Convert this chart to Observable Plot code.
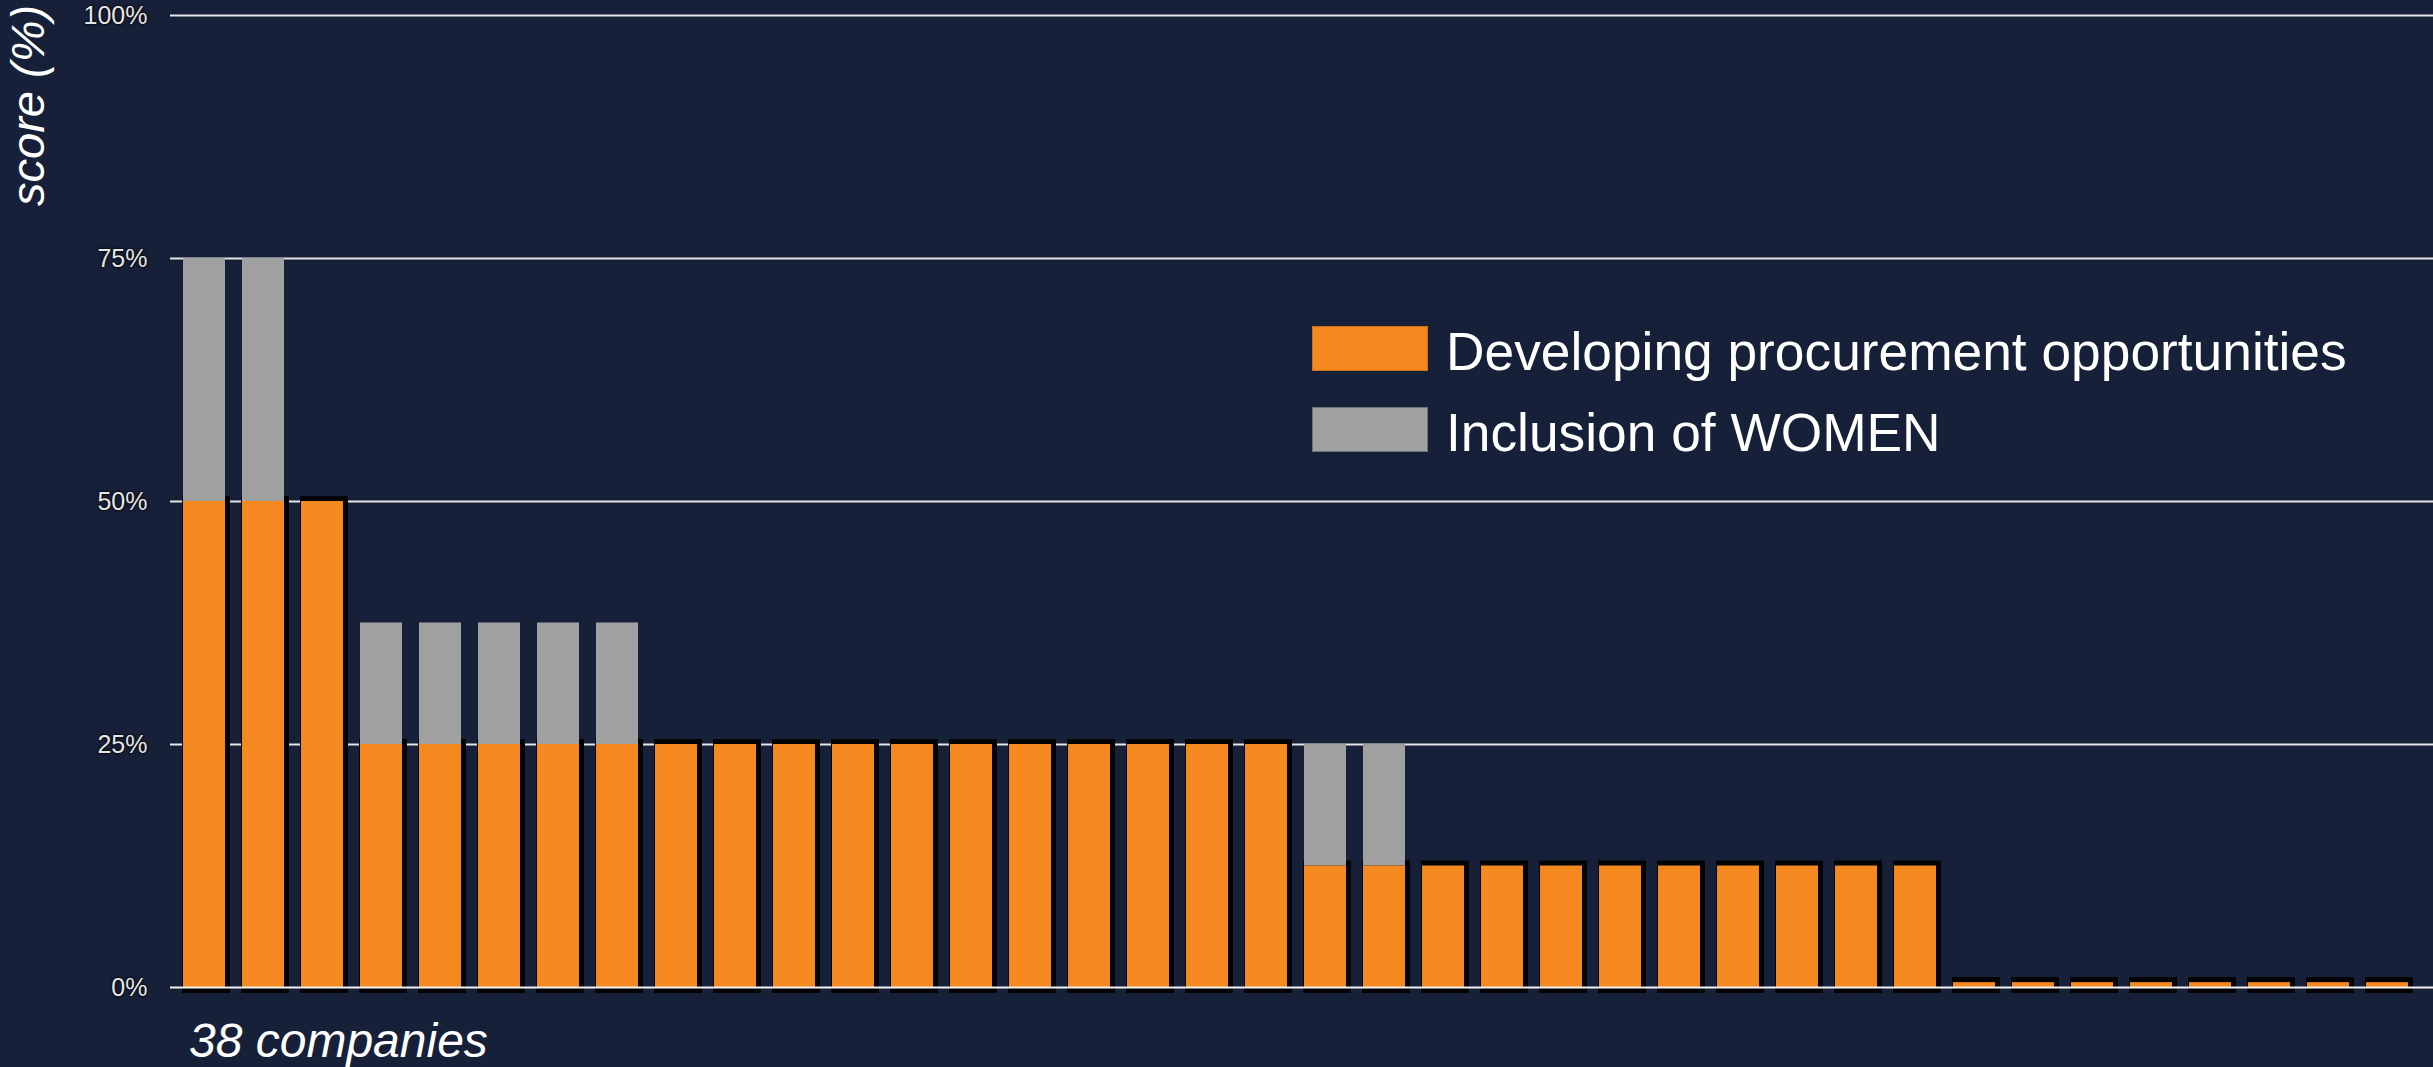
<!DOCTYPE html>
<html>
<head>
<meta charset="utf-8">
<script src="https://cdn.jsdelivr.net/npm/d3@7"></script>
<script src="https://cdn.jsdelivr.net/npm/@observablehq/plot@0.6"></script>
<style>
html, body { margin: 0; padding: 0; background: #172039; }
#wrap { position: relative; width: 2433px; height: 1067px; overflow: hidden; font-family: "Liberation Sans", Arial, sans-serif; color: #ffffff; }
#chart { position: absolute; left: 0; top: 0; }
#ylabel { position: absolute; left: 4px; top: 208px; transform: rotate(-90deg); transform-origin: 0 0; font-size: 47px; line-height: 47px; font-style: italic; white-space: nowrap; padding: 0 2px; }
#legend { position: absolute; left: 1312px; top: 325px; }
.row { display: flex; align-items: center; height: 47px; margin-bottom: 34px; }
.sw { width: 116px; height: 45px; margin-right: 18px; box-sizing: border-box; }
.lt { font-size: 53.3px; line-height: 47px; white-space: nowrap; position: relative; top: 3px; }
#caption { position: absolute; left: 189px; top: 1017px; font-size: 48px; line-height: 48px; font-style: italic; white-space: nowrap; }
#chart svg [aria-label="y-axis tick label"] text { text-shadow: 0 0 3px #000, 0 0 2px #000; }
</style>
</head>
<body>
<div id="wrap">
  <div id="chart"></div>
  <div id="ylabel">score (%)</div>
  <div id="legend"></div>
  <div id="caption">38 companies</div>
</div>
<script>
// ---- data ----
const companies = d3.range(1, 39).map(i => "Company " + i);
const procurement = [
  50, 50, 50,
  25, 25, 25, 25, 25, 25, 25, 25, 25, 25, 25, 25, 25, 25, 25, 25,
  12.5, 12.5, 12.5, 12.5, 12.5, 12.5, 12.5, 12.5, 12.5, 12.5, 12.5,
  0.5, 0.5, 0.5, 0.5, 0.5, 0.5, 0.5, 0.5
];
const women = [
  25, 25, 0,
  12.5, 12.5, 12.5, 12.5, 12.5,
  0, 0, 0, 0, 0, 0, 0, 0, 0, 0, 0,
  12.5, 12.5,
  0, 0, 0, 0, 0, 0, 0, 0, 0,
  0, 0, 0, 0, 0, 0, 0, 0
];
const yTicks = [0, 25, 50, 75, 100];
const seriesNames = ["Developing procurement opportunities", "Inclusion of WOMEN"];
const seriesColors = ["#f5891f", "#a1a1a1"];
const seriesBorders = ["#c9701a", "#6d727c"];

// ---- table ----
const table = companies.map((c, i) => ({
  company: c,
  proc: procurement[i],
  women: women[i],
  top: procurement[i] + women[i]
}));

const chart = Plot.plot({
  width: 2433,
  height: 1000,
  marginLeft: 170,
  marginRight: 0,
  marginTop: 15,
  marginBottom: 13,
  style: {
    background: "transparent",
    color: "#e6e6e6",
    fontFamily: "'Liberation Sans', Arial, sans-serif",
    fontSize: "25px",
    overflow: "visible"
  },
  x: { type: "band", domain: companies, range: [170, 2421], paddingInner: 0.28, paddingOuter: 0.135, axis: null },
  y: { domain: [0, 100] },
  marks: [
    Plot.ruleY(yTicks.filter(d => d > 0), { stroke: "#e4e4e4", strokeWidth: 2 }),
    Plot.axisY(yTicks, { tickFormat: d => d + "%", tickSize: 0, tickPadding: 23, fontSize: 25, label: null }),
    Plot.barY(table, { x: "company", y1: 0, y2: "proc", fill: "#030305", insetLeft: -1, insetRight: -5, insetTop: -5, insetBottom: -6 }),
    Plot.barY(table.filter(d => d.women > 0), { x: "company", y1: "proc", y2: "top", fill: seriesColors[1] }),
    Plot.barY(table, { x: "company", y1: 0, y2: "proc", fill: seriesColors[0] }),
    Plot.ruleY([0], { stroke: "#f2f2f2", strokeWidth: 2 })
  ]
});
document.getElementById("chart").appendChild(chart);

// ---- legend ----
const legend = document.getElementById("legend");
seriesNames.forEach((name, i) => {
  const row = document.createElement("div");
  row.className = "row";
  const sw = document.createElement("div");
  sw.className = "sw";
  sw.style.background = seriesColors[i];
  sw.style.border = "1px solid " + seriesBorders[i];
  const lt = document.createElement("div");
  lt.className = "lt";
  lt.textContent = name;
  row.appendChild(sw);
  row.appendChild(lt);
  legend.appendChild(row);
});
</script>
</body>
</html>
